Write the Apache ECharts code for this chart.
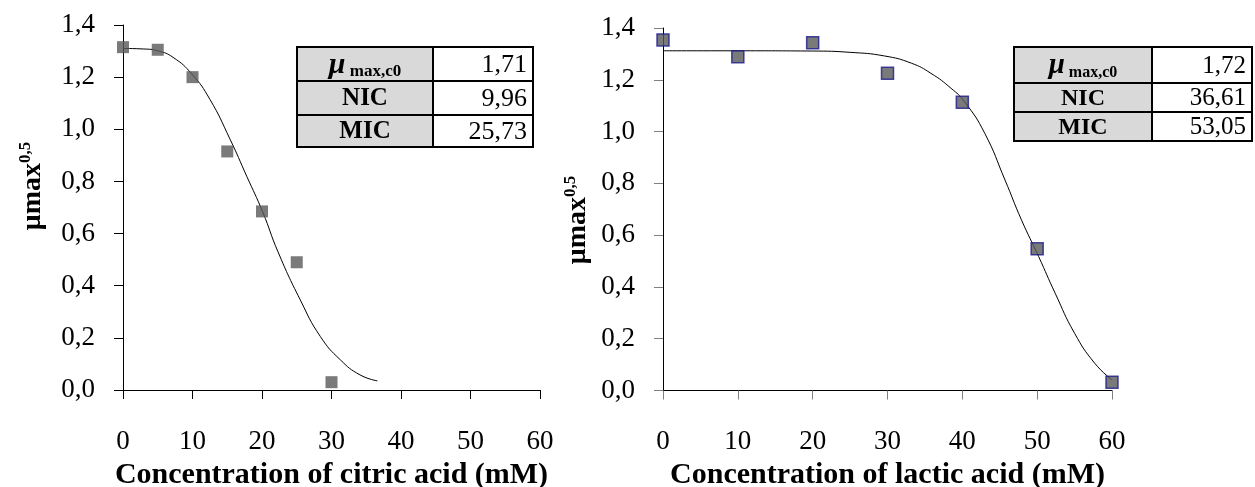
<!DOCTYPE html>
<html><head><meta charset="utf-8">
<script src="https://cdn.jsdelivr.net/npm/echarts@6/dist/echarts.min.js"></script>
<style>html,body{margin:0;padding:0;background:#fff}#c{width:1255px;height:487px}</style>
</head><body><div id="c"></div>
<script>
// ---------- data ----------
const xTicks = [0, 10, 20, 30, 40, 50, 60];
const yTicks = [0, 0.2, 0.4, 0.6, 0.8, 1.0, 1.2, 1.4];

const citricX = [0, 5, 10, 15, 20, 25, 30];
const citricY = [1.315, 1.305, 1.200, 0.915, 0.685, 0.490, 0.030];
const citricFitX = [0, 3, 5, 7.2, 9.9, 12.5, 15.4, 17.8, 20.1, 22.3, 25.5, 28.4, 31.3, 34.1, 36.6];
const citricFitY = [1.310, 1.308, 1.301, 1.276, 1.212, 1.115, 0.962, 0.820, 0.683, 0.530, 0.346, 0.205, 0.115, 0.058, 0.035];

const lacticX = [0, 10, 20, 30, 40, 50, 60];
const lacticY = [1.354, 1.289, 1.343, 1.225, 1.113, 0.547, 0.032];
const lacticFitX = [0, 10, 20, 25, 29.6, 33.2, 35.8, 38.5, 40.3, 43, 45.7, 47.9, 50.2, 52.4, 55, 57.7, 60];
const lacticFitY = [1.312, 1.312, 1.311, 1.306, 1.292, 1.264, 1.225, 1.167, 1.115, 0.993, 0.813, 0.659, 0.517, 0.376, 0.221, 0.105, 0.041];

const tableLabels = ['μ', 'NIC', 'MIC'];
const tableSub = 'max,c0';
const citricTable = ['1,71', '9,96', '25,73'];
const lacticTable = ['1,72', '36,61', '53,05'];

const xTitles = ['Concentration of citric acid (mM)', 'Concentration of lactic acid (mM)'];
const yTitleMain = 'μmax';
const yTitleSup = '0,5';

// ---------- chart ----------
const FONT = 'Liberation Serif';
const pairs = (xs, ys) => xs.map((x, i) => [x, ys[i]]);
const chart = echarts.init(document.getElementById('c'));

function xAxisCfg(g, name, tickColor) {
  return {
    gridIndex: g, type: 'value', min: 0, max: 60, interval: 10,
    axisLine: { show: true, lineStyle: { color: '#000', width: 1 } },
    axisTick: { show: true, length: 9, lineStyle: { color: tickColor } },
    axisLabel: { margin: 38, fontFamily: FONT, fontSize: 27, color: '#000',
      formatter: v => String(v) },
    splitLine: { show: false },
    name: name, nameLocation: 'middle', nameGap: 81,
    nameTextStyle: { fontFamily: FONT, fontSize: 30, fontWeight: 'bold', color: '#000', verticalAlign: 'middle' }
  };
}
function yAxisCfg(g, tickColor) {
  return {
    gridIndex: g, type: 'value', min: 0, max: 1.4, interval: 0.2,
    axisLine: { show: true, lineStyle: { color: '#000', width: 1 } },
    axisTick: { show: true, length: 9, lineStyle: { color: tickColor } },
    axisLabel: { margin: 28, fontFamily: FONT, fontSize: 27, color: '#000',
      formatter: v => v.toFixed(1).replace('.', ',') },
    splitLine: { show: false }
  };
}

function table(x0, x1, xm, ys, values, lblSize, valSize, muSize, subSize) {
  const els = [];
  for (let i = 0; i < 3; i++) {
    els.push({ type: 'rect', shape: { x: x0, y: ys[i], width: xm - x0, height: ys[i + 1] - ys[i] },
      style: { fill: '#d9d9d9', stroke: '#000', lineWidth: 2 } });
    els.push({ type: 'rect', shape: { x: xm, y: ys[i], width: x1 - xm, height: ys[i + 1] - ys[i] },
      style: { fill: '#fff', stroke: '#000', lineWidth: 2 } });
    const cy = (ys[i] + ys[i + 1]) / 2;
    if (i === 0) {
      els.push({ type: 'text', x: (x0 + xm) / 2, y: cy + 1,
        style: { text: '{m|' + tableLabels[0] + '}{s| ' + tableSub + '}', align: 'center', verticalAlign: 'middle',
          rich: { m: { fontFamily: FONT, fontSize: muSize, fontWeight: 'bold', fontStyle: 'italic', fill: '#000', verticalAlign: 'bottom' },
                  s: { fontFamily: FONT, fontSize: subSize, fontWeight: 'bold', fill: '#000', verticalAlign: 'bottom' } } } });
    } else {
      els.push({ type: 'text', x: (x0 + xm) / 2, y: cy + 1,
        style: { text: tableLabels[i], align: 'center', verticalAlign: 'middle',
          fontFamily: FONT, fontSize: lblSize, fontWeight: 'bold', fill: '#000' } });
    }
    els.push({ type: 'text', x: x1 - 6, y: cy + 1,
      style: { text: values[i], align: 'right', verticalAlign: 'middle',
        fontFamily: FONT, fontSize: valSize, fill: '#000' } });
  }
  return els;
}

function yTitle(x, y) {
  return { type: 'text', x: x, y: y, rotation: Math.PI / 2,
    style: { text: '{m|' + yTitleMain + '}{s|' + yTitleSup + '}', align: 'center', verticalAlign: 'middle',
      rich: { m: { fontFamily: FONT, fontSize: 28, fontWeight: 'bold', fill: '#000', verticalAlign: 'bottom', lineHeight: 30 },
              s: { fontFamily: FONT, fontSize: 17, fontWeight: 'bold', fill: '#000', verticalAlign: 'top', lineHeight: 30 } } } };
}

const option = {
  animation: false,
  backgroundColor: '#fff',
  grid: [
    { left: 123, top: 25, width: 417, height: 365, containLabel: false, outerBoundsMode: 'none' },
    { left: 663, top: 28, width: 449, height: 362.5, containLabel: false, outerBoundsMode: 'none' }
  ],
  xAxis: [xAxisCfg(0, xTitles[0], '#000'), xAxisCfg(1, xTitles[1], '#808080')],
  yAxis: [yAxisCfg(0, '#000'), yAxisCfg(1, '#808080')],
  series: [
    { type: 'line', xAxisIndex: 0, yAxisIndex: 0, data: pairs(citricFitX, citricFitY), smooth: true,
      showSymbol: false, lineStyle: { color: '#000', width: 1 }, z: 2 },
    { type: 'scatter', xAxisIndex: 0, yAxisIndex: 0, data: pairs(citricX, citricY), symbol: 'rect', symbolSize: 12,
      itemStyle: { color: '#595959' }, z: 3 },
    { type: 'line', xAxisIndex: 1, yAxisIndex: 1, data: pairs(lacticFitX, lacticFitY), smooth: true,
      showSymbol: false, lineStyle: { color: '#000', width: 1 }, z: 2 },
    { type: 'scatter', xAxisIndex: 1, yAxisIndex: 1, data: pairs(lacticX, lacticY), symbol: 'rect', symbolSize: 12,
      itemStyle: { color: '#595959', borderColor: '#1c1c8c', borderWidth: 1.5 }, z: 3 }
  ],
  graphic: [].concat(
    table(297, 533, 433, [47, 81, 115, 147], citricTable, 25, 26, 30, 17),
    table(1014, 1252, 1152, [47, 83, 112, 141], lacticTable, 24, 25, 29, 16),
    [yTitle(32, 186), yTitle(577, 220)]
  )
};
chart.setOption(option);
</script></body></html>
